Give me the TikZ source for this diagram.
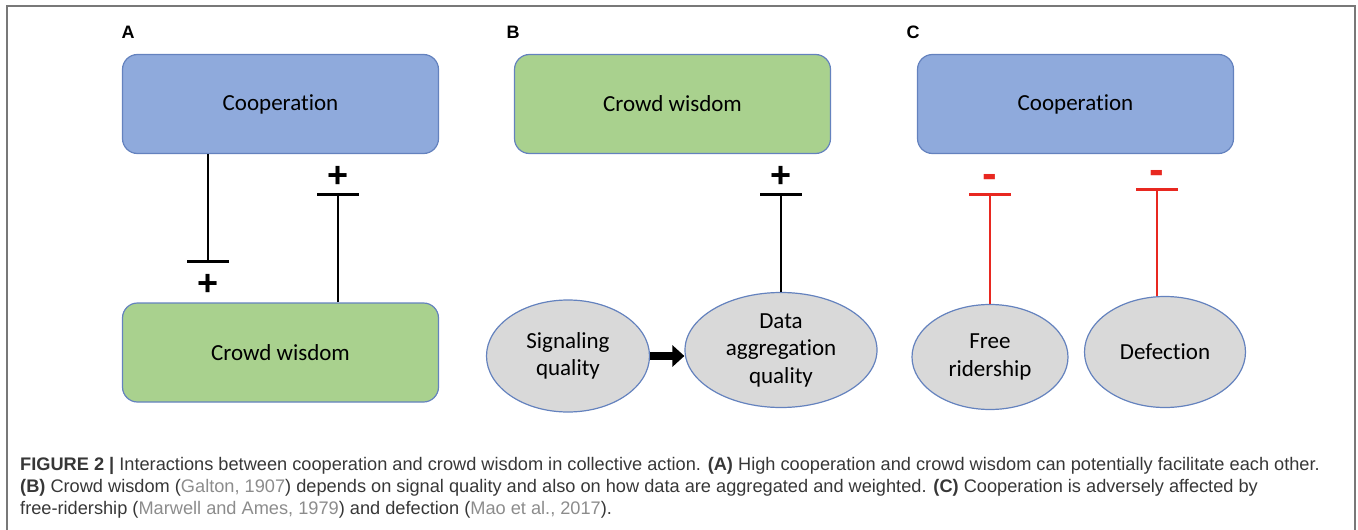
\documentclass[tikz,border=0pt]{standalone}
\usepackage{fontspec}
\setmainfont{Carlito}[Ligatures=NoCommon]
\newfontfamily\capfont{Liberation Sans}
\newfontfamily\labfont{Liberation Sans}
\usepackage{xcolor}
\definecolor{coopblue}{RGB}{143,170,220}
\definecolor{wisegreen}{RGB}{169,209,142}
\definecolor{edgeblue}{RGB}{100,130,190}
\definecolor{ovalgray}{RGB}{217,217,217}
\definecolor{linkred}{RGB}{232,40,32}
\definecolor{capgray}{RGB}{55,55,55}
\definecolor{citegray}{RGB}{140,140,140}
\definecolor{framegray}{RGB}{120,120,120}
\newcommand{\refgray}[1]{\textcolor{citegray}{#1}}
\usetikzlibrary{arrows.meta,positioning,shapes.geometric,calc}

\begin{document}
\begin{tikzpicture}[x=1pt, y=-1pt,
  bbox/.style={rectangle, rounded corners=15pt, draw=edgeblue, line width=1.2pt,
               minimum width=316pt, minimum height=99pt,
               font=\fontsize{23}{27}\selectfont, align=center},
  oval/.style={ellipse, draw=edgeblue, line width=1.2pt, fill=ovalgray,
               inner sep=0pt, font=\fontsize{23}{27.5}\selectfont, align=center},
  inh/.style={-{Bar[width=42pt, line width=3pt]}, line width=2.4pt},
  inhred/.style={inh, draw=linkred},
  sign/.style={font=\labfont\bfseries\fontsize{36}{36}\selectfont, inner sep=0pt},
  minus/.style={sign, font=\labfont\bfseries\fontsize{44}{44}\selectfont, text=linkred},
  panel/.style={font=\labfont\bfseries\fontsize{18}{18}\selectfont, inner sep=0pt},
  captext/.style={font=\capfont\fontsize{18.2}{22}\selectfont, text=capgray, inner sep=0pt},
  fat/.style={-{Triangle[length=12pt, width=21pt]}, line width=8pt}
]
\useasboundingbox (0,0) rectangle (1358,530);
% frame
\draw[framegray, line width=1.5pt] (7,530) -- (7,6) -- (1355,6) -- (1355,530);

% Panel labels
\node[panel] (labA) at (128,32) {A};
\node[panel] (labB) at (513,32) {B};
\node[panel] (labC) at (913,32) {C};

% Panel A
\node[bbox, fill=coopblue]  (coopA)  at (280.5,104)   {Cooperation};
\node[bbox, fill=wisegreen] (crowdA) at (280.5,352.5) {Crowd wisdom};
\coordinate (tA1) at (208,263);
\coordinate (tA2) at (338,193);
\draw[inh] (coopA.south -| tA1) -- (tA1);
\draw[inh] (crowdA.north -| tA2) -- (tA2);
\node[sign] (pA1) at (208,285) {+};
\node[sign] (pA2) at (338,177) {+};

% Panel B
\node[bbox, fill=wisegreen] (crowdB) at (672.5,104) {Crowd wisdom};
\node[oval, minimum width=163pt, minimum height=112pt] (signal) at (568,356)
  {Signaling\\quality};
\node[oval, minimum width=192pt, minimum height=115pt] (aggreg) at (781,350)
  {Data\\aggregation\\quality};
\coordinate (tB) at (781,193);
\draw[fat] (signal.east) -- (aggreg.west |- signal.east);
\draw[inh] (aggreg.north) -- (tB);
\node[sign] (pB) at (781,177) {+};

% Panel C
\node[bbox, fill=coopblue] (coopC) at (1075.5,104) {Cooperation};
\node[oval, minimum width=156pt, minimum height=105pt] (free) at (990,357)
  {Free\\ridership};
\node[oval, minimum width=161pt, minimum height=111pt] (defect) at (1165,352)
  {Defection};
\coordinate (tC1) at (990,193);
\coordinate (tC2) at (1157,188);
\draw[inhred] (free.north) -- (tC1);
\draw[inhred] (tC2 |- defect.north) -- (tC2);
\node[minus] (mC1) at (990,181) {-};
\node[minus] (mC2) at (1157,177) {-};

% Caption
\node[captext, anchor=base west] (cap1) at (20,470)
  {\textbf{FIGURE 2 |} Interactions between cooperation and crowd wisdom in collective action. \textbf{(A)} High cooperation and crowd wisdom can potentially facilitate each other.};
\node[captext, anchor=base west] (cap2) at (20,492)
  {\textbf{(B)} Crowd wisdom (\refgray{Galton, 1907}) depends on signal quality and also on how data are aggregated and weighted. \textbf{(C)} Cooperation is adversely affected by};
\node[captext, anchor=base west] (cap3) at (20,514)
  {free-ridership (\refgray{Marwell and Ames, 1979}) and defection (\refgray{Mao et al., 2017}).};
\end{tikzpicture}
\end{document}
